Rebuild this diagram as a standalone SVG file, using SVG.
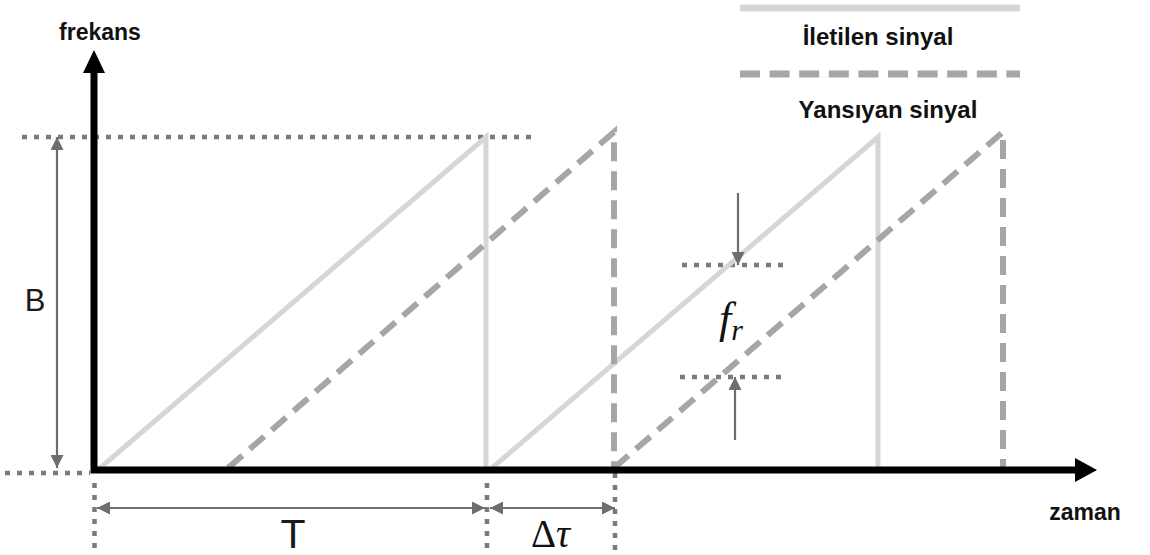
<svg xmlns="http://www.w3.org/2000/svg" width="1150" height="555" viewBox="0 0 1150 555">
<style>
.tx{fill:none;stroke:#d6d6d6;stroke-width:5;stroke-linejoin:miter}
.rx{fill:none;stroke:#a6a6a6;stroke-width:6;stroke-dasharray:19 10;stroke-linejoin:miter}
.dot{fill:none;stroke:#7a7a7a;stroke-width:4.5;stroke-dasharray:5 7}
.dim{fill:none;stroke:#6e6e6e;stroke-width:2.2}
.lbl{font-family:"Liberation Sans",Arial,sans-serif;font-weight:bold;fill:#111}
.big{font-family:"Liberation Sans",Arial,sans-serif;fill:#1a1a1a}
.math{font-family:"Liberation Serif","Times New Roman",serif;fill:#111}
</style>
<defs>
<marker id="ah" viewBox="0 0 10 10" refX="10" refY="5" markerWidth="13" markerHeight="13" markerUnits="userSpaceOnUse" orient="auto-start-reverse">
<path d="M0,0 L10,5 L0,10 z" fill="#6e6e6e"/>
</marker>
</defs>
<rect width="1150" height="555" fill="#fff"/>

<g id="legend">
<line x1="740" y1="8" x2="1020" y2="8" stroke="#d6d6d6" stroke-width="7"/>
<text class="lbl" x="878" y="45" font-size="24" text-anchor="middle">İletilen sinyal</text>
<line x1="740" y1="74" x2="1020" y2="74" stroke="#a6a6a6" stroke-width="7" stroke-dasharray="20 9.6"/>
<text class="lbl" x="888" y="118" font-size="24" text-anchor="middle">Yansıyan sinyal</text>
</g>

<g id="guides">
<line class="dot" x1="22" y1="137" x2="535" y2="137"/>
<line class="dot" x1="5" y1="473" x2="90" y2="473"/>
<line class="dot" x1="94.5" y1="483" x2="94.5" y2="552"/>
<line class="dot" x1="487" y1="483" x2="487" y2="552"/>
<line class="dot" x1="615" y1="473" x2="615" y2="552"/>
<line class="dot" x1="682" y1="265" x2="790" y2="265"/>
<line class="dot" x1="680" y1="377" x2="788" y2="377"/>
</g>

<g id="signals">
<path class="tx" d="M100,468 L486,137 L486,468 M492,468 L878,137 L878,468"/>
<path class="rx" d="M228,468 L614,132 L614,468"/>
<path class="rx" d="M614,468 L1003,132 L1003,468"/>
</g>

<g id="axes">
<path d="M94,72 V470 H1077" fill="none" stroke="#000" stroke-width="7" stroke-linejoin="miter"/>
<polygon points="83,73 105,73 94,50" fill="#000"/>
<polygon points="1075,458 1075,482 1097,470" fill="#000"/>
<text class="lbl" x="100" y="40" font-size="23" text-anchor="middle">frekans</text>
<text class="lbl" x="1085" y="520" font-size="23" text-anchor="middle">zaman</text>
</g>

<g id="dimensions">
<line class="dim" x1="57" y1="137" x2="57" y2="468" marker-start="url(#ah)" marker-end="url(#ah)"/>
<line class="dim" x1="97" y1="508" x2="485" y2="508" marker-start="url(#ah)" marker-end="url(#ah)"/>
<line class="dim" x1="490" y1="508" x2="615" y2="508" marker-start="url(#ah)" marker-end="url(#ah)"/>
<line class="dim" x1="738" y1="193" x2="738" y2="265" marker-end="url(#ah)"/>
<line class="dim" x1="735" y1="440" x2="735" y2="377" marker-end="url(#ah)"/>
</g>

<g id="labels">
<text class="big" x="35" y="311" font-size="31" text-anchor="middle">B</text>
<text class="big" x="293" y="548" font-size="41" text-anchor="middle">T</text>
<text class="math" x="531" y="547" font-size="39">Δ<tspan font-style="italic">τ</tspan></text>
<text class="math" x="719" y="333" font-size="44" font-style="italic">f<tspan font-size="30" dy="7">r</tspan></text>
</g>
</svg>
